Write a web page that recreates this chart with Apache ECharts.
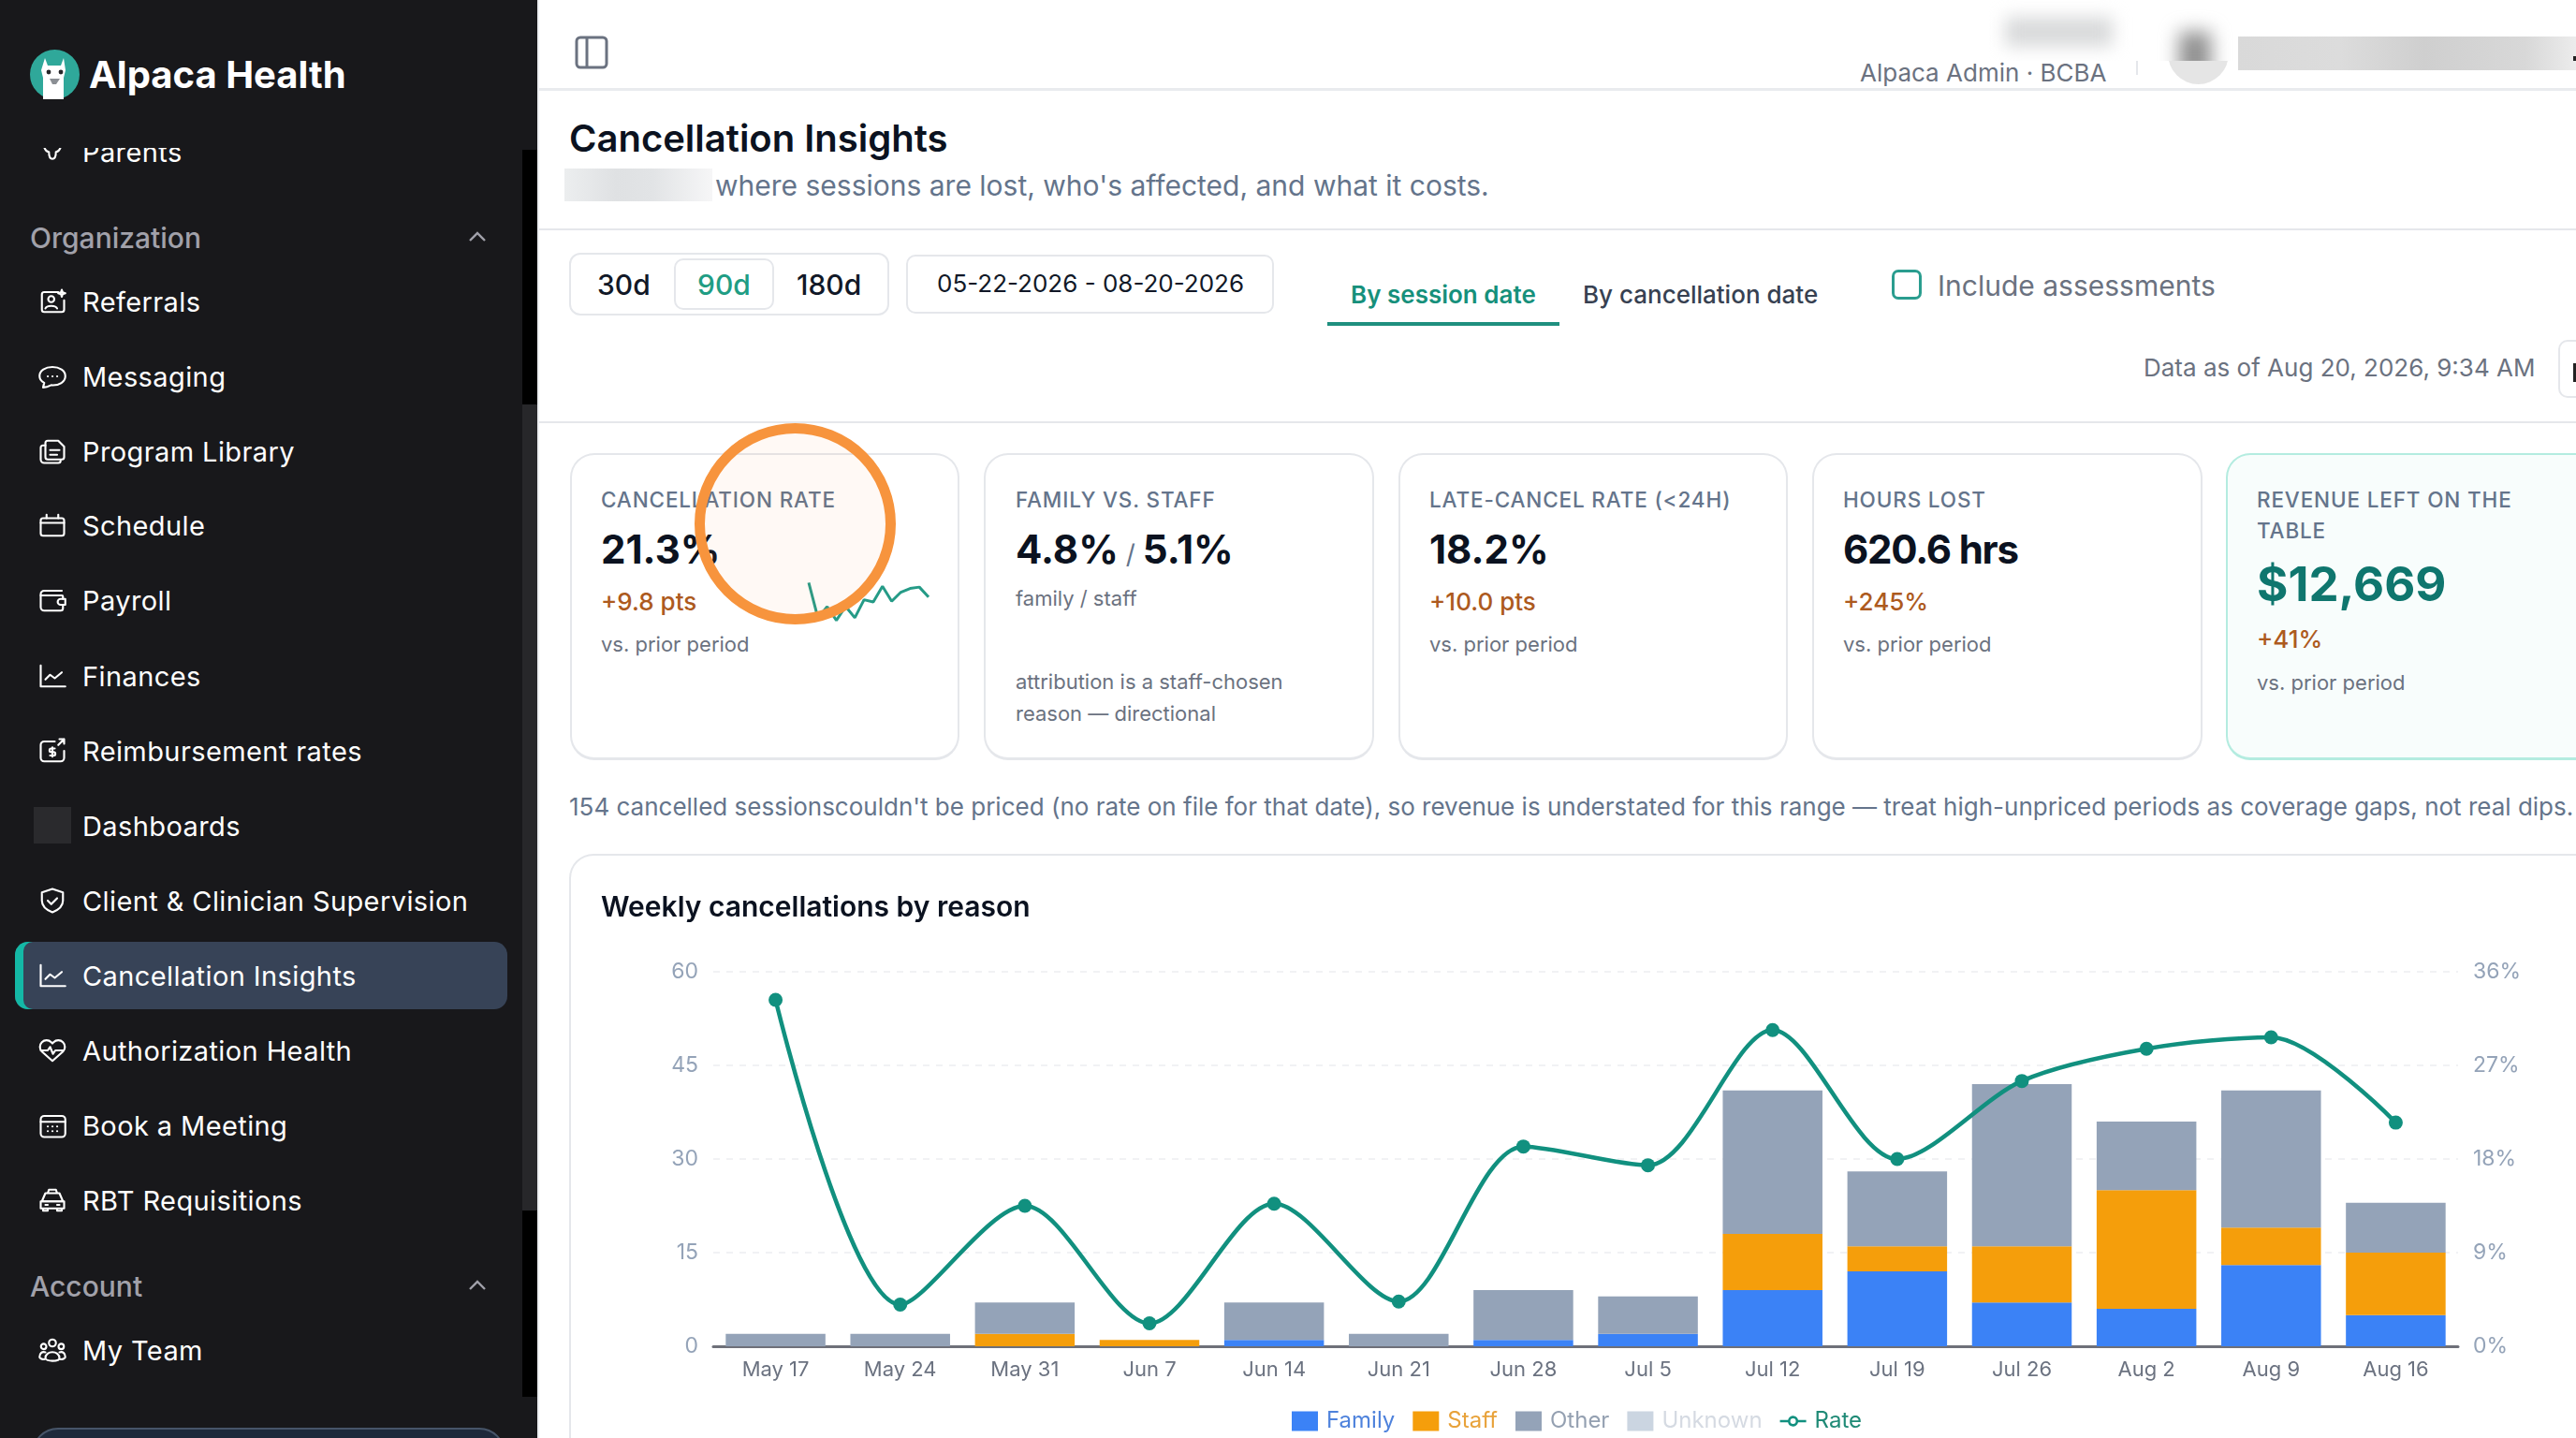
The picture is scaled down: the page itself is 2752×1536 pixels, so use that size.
<!DOCTYPE html>
<html>
<head>
<meta charset="UTF-8"/>
<title>Cancellation Insights</title>
<script src="https://cdn.jsdelivr.net/npm/echarts@6/dist/echarts.min.js"></script>
<style type="text/css">
html, body { margin: 0; padding: 0; width: 2752px; height: 1536px; overflow: hidden; background: #fff; font-family: Inter, "Noto Sans", sans-serif; }
.t { position: absolute; white-space: nowrap; line-height: 1; transform: translateY(-50%); }
.box { position: absolute; box-sizing: border-box; }
.nav { color: #fff; font-size: 29px; left: 88px; letter-spacing: .4px; }
.sec { color: #a1a1aa; font-size: 30px; left: 32px; font-weight: 500; }
.ico { position: absolute; left: 41px; width: 30px; height: 30px; fill: none; stroke: #fff; stroke-width: 1.7; stroke-linecap: round; stroke-linejoin: round; }
.card { position: absolute; box-sizing: border-box; top: 484px; height: 328px; border: 2px solid #e5e7eb; border-bottom-width: 3px; border-radius: 26px; background: #fff; }
.lab { color: #64748b; font-size: 22.5px; font-weight: 500; letter-spacing: .85px; }
.val { color: #0b1220; font-size: 42px; font-weight: 700; }
.delta { color: #ad5a1e; font-size: 26px; font-weight: 500; }
.sub { color: #6b7280; font-size: 22px; }
</style>
</head>
<body>

<!-- sidebar -->
<div class="box" style="left:0;top:0;width:574px;height:1536px;background:#18181b;"></div>
<div class="box" style="left:574px;top:0;width:2px;height:1536px;background:#eceef1;"></div>
<div class="box" style="left:558px;top:160px;width:16px;height:272px;background:#000;"></div>
<div class="box" style="left:558px;top:432px;width:16px;height:861px;background:#27272a;"></div>
<div class="box" style="left:558px;top:1293px;width:16px;height:199px;background:#000;"></div>

<svg class="box" style="left:32px;top:53px;" width="53" height="53" viewBox="0 0 53 53">
  <circle cx="26.5" cy="26.5" r="26.5" fill="#2fa89a"/>
  <path d="M16 9l3 8h14l3-8 2 13-2 8v23H14V30l-2-8z" fill="#fff"/>
  <circle cx="20" cy="24" r="2.4" fill="#27272a"/><circle cx="33" cy="24" r="2.4" fill="#27272a"/>
  <path d="M21 31h11l-4 6h-4z" fill="#8b8f94"/>
</svg>
<div class="t" style="left:95px;top:80px;color:#fff;font-size:40px;font-weight:700;">Alpaca Health</div>

<div class="box" style="left:0;top:158px;width:550px;height:30px;overflow:hidden;">
  <div class="t nav" style="top:4px;">Parents</div>
  <svg class="ico" style="top:-12px;" viewBox="0 0 24 24"><path d="M5 9c1 3 3 4 4 4 0 3 1 6 3 6s3-3 3-6c1 0 3-1 4-4"/></svg>
</div>

<div class="t sec" style="top:254px;">Organization</div>
<svg class="box" style="left:500px;top:246px;" width="20" height="14" viewBox="0 0 20 14"><path d="M2 11l8-8 8 8" fill="none" stroke="#a1a1aa" stroke-width="2.4"/></svg>

<div class="t nav" style="top:322px;">Referrals</div>
<svg class="ico" style="top:307px;" viewBox="0 0 24 24"><path d="M17 4H5a2 2 0 0 0-2 2v13a2 2 0 0 0 2 2h15a2 2 0 0 0 2-2v-8"/><circle cx="11" cy="10" r="2.6"/><path d="M6 18c1-3 9-3 10 0"/><path d="M20 2l.7 2.3L23 5l-2.3.7L20 8l-.7-2.3L17 5l2.3-.7z"/></svg>
<div class="t nav" style="top:402px;">Messaging</div>
<svg class="ico" style="top:387px;" viewBox="0 0 24 24"><path d="M23 11.5C23 7 18 4 12 4S1 7 1 11.5c0 3 2 5 4 6l-1 4c3 0 5-1 7-2 7 .5 12-3 12-7.5z"/><path d="M8 12h.1M12 12h.1M16 12h.1"/></svg>
<div class="t nav" style="top:482px;">Program Library</div>
<svg class="ico" style="top:467px;" viewBox="0 0 24 24"><path d="M8 3h9l5 5v9a2 2 0 0 1-2 2H8a2 2 0 0 1-2-2V5a2 2 0 0 1 2-2z"/><path d="M6 7H4a2 2 0 0 0-2 2v10a3 3 0 0 0 3 3h12a2 2 0 0 0 2-2"/><path d="M10 11h8M10 15h6"/></svg>
<div class="t nav" style="top:561px;">Schedule</div>
<svg class="ico" style="top:546px;" viewBox="0 0 24 24"><rect x="2" y="6" width="20" height="15" rx="2"/><path d="M7 3v3M17 3v3M2 10h20"/></svg>
<div class="t nav" style="top:641px;">Payroll</div>
<svg class="ico" style="top:626px;" viewBox="0 0 24 24"><path d="M20 4H5a3 3 0 0 0-3 3v11a3 3 0 0 0 3 3h14a2 2 0 0 0 2-2v-3"/><path d="M2 8h18a1 1 0 0 1 1 1v2"/><path d="M23 11h-4a2.5 2.5 0 0 0 0 5h4z"/></svg>
<div class="t nav" style="top:722px;">Finances</div>
<svg class="ico" style="top:707px;" viewBox="0 0 24 24"><path d="M2 3v18h21"/><path d="M6 15l4-4 4 3 6-5"/></svg>
<div class="t nav" style="top:802px;">Reimbursement rates</div>
<svg class="ico" style="top:787px;" viewBox="0 0 24 24"><path d="M14 4H5a3 3 0 0 0-3 3v11a3 3 0 0 0 3 3h14a3 3 0 0 0 3-3v-6"/><path d="M17 7l5-5M18 2h4v4"/><path d="M14 10h-3a1.5 1.5 0 0 0 0 3h2a1.5 1.5 0 0 1 0 3h-3M12 9v8"/></svg>
<div class="box" style="left:36px;top:862px;width:40px;height:39px;background:#2a2a2d;"></div>
<div class="t nav" style="top:882px;">Dashboards</div>
<div class="t nav" style="top:962px;">Client &amp; Clinician Supervision</div>
<svg class="ico" style="top:947px;" viewBox="0 0 24 24"><path d="M12 2l9 3v7c0 5-4 8-9 10-5-2-9-5-9-10V5z"/><path d="M8 12l3 3 5-5"/></svg>

<div class="box" style="left:16px;top:1006px;width:526px;height:72px;background:#374357;border-radius:14px;"></div>
<div class="box" style="left:16px;top:1006px;width:22px;height:72px;background:#14b8a6;border-radius:14px 0 0 14px;"></div>
<div class="box" style="left:25px;top:1006px;width:14px;height:72px;background:#374357;border-radius:10px 0 0 10px;"></div>
<div class="t nav" style="top:1042px;">Cancellation Insights</div>
<svg class="ico" style="top:1027px;" viewBox="0 0 24 24"><path d="M2 3v18h21"/><path d="M6 15l4-4 4 3 6-5"/></svg>

<div class="t nav" style="top:1122px;">Authorization Health</div>
<svg class="ico" style="top:1107px;" viewBox="0 0 24 24"><path d="M12 21L3 13a5.5 5.5 0 0 1 8-8l1 1 1-1a5.5 5.5 0 0 1 8 8z"/><path d="M2 12h6l2-3 2.500 6 2-3h7"/></svg>
<div class="t nav" style="top:1202px;">Book a Meeting</div>
<svg class="ico" style="top:1187px;" viewBox="0 0 24 24"><rect x="2" y="4" width="21" height="18" rx="3"/><path d="M2 9h21M8 13h.1M12 13h.1M16 13h.1M8 17h.1M12 17h.1M16 17h.1"/></svg>
<div class="t nav" style="top:1282px;">RBT Requisitions</div>
<svg class="ico" style="top:1267px;" viewBox="0 0 24 24"><path d="M9 3h6l1 3H8zM6 6h12l3 7H3z"/><path d="M2 13h20v6H2zM4 19v2h4v-2M16 19v2h4v-2M6 16h2M16 16h2"/></svg>

<div class="t sec" style="top:1374px;">Account</div>
<svg class="box" style="left:500px;top:1366px;" width="20" height="14" viewBox="0 0 20 14"><path d="M2 11l8-8 8 8" fill="none" stroke="#a1a1aa" stroke-width="2.4"/></svg>
<div class="t nav" style="top:1442px;">My Team</div>
<svg class="ico" style="top:1427px;" viewBox="0 0 24 24"><circle cx="12" cy="6" r="3"/><circle cx="4.500" cy="9" r="2.300"/><circle cx="19.500" cy="9" r="2.300"/><path d="M6 19c0-7 12-7 12 0 0 3-12 3-12 0zM6 14c-3-1-5 1-5 4 0 1 2 2 4 2M18 14c3-1 5 1 5 4 0 1-2 2-4 2"/></svg>
<div class="box" style="left:34px;top:1525px;width:506px;height:60px;background:#1e293b;border:2px solid #475569;border-radius:28px;"></div>

<!-- top bar -->
<div class="box" style="left:576px;top:94px;width:2176px;height:3px;background:#e9ebee;"></div>
<svg class="box" style="left:614px;top:38px;" width="36" height="36" viewBox="0 0 36 36"><rect x="2" y="2" width="32" height="32" rx="4" fill="none" stroke="#6b7280" stroke-width="3"/><path d="M13 2v32" stroke="#6b7280" stroke-width="3"/></svg>
<div class="t" style="left:1987px;top:78px;color:#6b7280;font-size:26px;">Alpaca Admin · BCBA</div>
<div class="box" style="left:2282px;top:65px;width:2px;height:15px;background:#e5e7eb;"></div>
<div class="box" style="left:2316px;top:24px;width:65px;height:66px;border-radius:50%;background:#e5e5e5;"></div>
<div class="box" style="left:2124px;top:0;width:291px;height:65px;background:#fff;overflow:hidden;">
  <div class="box" style="left:18px;top:18px;width:115px;height:32px;background:#d9dadb;filter:blur(9px);"></div>
  <div class="box" style="left:204px;top:34px;width:34px;height:50px;background:#8e8e8e;filter:blur(10px);"></div>
</div>
<div class="box" style="left:2391px;top:39px;width:361px;height:36px;background:linear-gradient(90deg,#d9d9d9,#dcdcdc 30%,#cfcfcf 55%,#d8d8d8 85%,#ececec);"></div>
<div class="box" style="left:2749px;top:60px;width:3px;height:5px;background:#222;"></div>

<!-- page heading -->
<div class="t" style="left:608px;top:148px;color:#0b1220;font-size:40px;font-weight:600;">Cancellation Insights</div>
<div class="box" style="left:603px;top:180px;width:158px;height:35px;background:linear-gradient(90deg,#eceeef,#dfe1e3 35%,#e2e4e6 60%,#f6f6f7);"></div>
<div class="t" style="left:764px;top:198px;color:#64748b;font-size:30px;">where sessions are lost, who's affected, and what it costs.</div>
<div class="box" style="left:576px;top:244px;width:2176px;height:2px;background:#e5e7eb;"></div>

<!-- filters -->
<div class="box" style="left:608px;top:270px;width:342px;height:67px;border:2px solid #e5e7eb;border-radius:12px;"></div>
<div class="box" style="left:720px;top:276px;width:107px;height:55px;border:2px solid #e5e7eb;border-radius:10px;"></div>
<div class="t" style="left:638px;top:304px;color:#111827;font-size:30px;font-weight:500;">30d</div>
<div class="t" style="left:745px;top:304px;color:#1f9d84;font-size:30px;font-weight:500;">90d</div>
<div class="t" style="left:851px;top:304px;color:#111827;font-size:30px;font-weight:500;">180d</div>
<div class="box" style="left:968px;top:272px;width:393px;height:63px;border:2px solid #e5e7eb;border-radius:10px;"></div>
<div class="t" style="left:1001px;top:303px;color:#111827;font-size:26px;">05-22-2026 - 08-20-2026</div>
<div class="t" style="left:1443px;top:315px;color:#16907b;font-size:26px;font-weight:600;">By session date</div>
<div class="box" style="left:1418px;top:344px;width:248px;height:4px;background:#1f8f7f;"></div>
<div class="t" style="left:1691px;top:315px;color:#374151;font-size:26px;font-weight:500;">By cancellation date</div>
<div class="box" style="left:2021px;top:288px;width:32px;height:32px;border:3px solid #2a9d8f;border-radius:7px;"></div>
<div class="t" style="left:2070px;top:305px;color:#6b7280;font-size:30px;">Include assessments</div>
<div class="t" style="left:2290px;top:393px;color:#6b7280;font-size:26px;">Data as of Aug 20, 2026, 9:34 AM</div>
<div class="box" style="left:2733px;top:363px;width:60px;height:62px;border:2px solid #e5e7eb;border-radius:10px;"></div>
<div class="box" style="left:2749px;top:388px;width:3px;height:20px;background:#222;"></div>
<div class="box" style="left:576px;top:450px;width:2176px;height:2px;background:#e5e7eb;"></div>

<!-- stat cards -->
<div class="card" style="left:609px;width:416px;"></div>
<div class="t lab" style="left:642px;top:534px;">CANCELLATION RATE</div>
<div class="t val" style="left:642px;top:587px;">21.3%</div>
<div class="t delta" style="left:642px;top:643px;">+9.8 pts</div>
<div class="t sub" style="left:642px;top:688px;">vs. prior period</div>
<div id="spark" class="box" style="left:862px;top:619px;width:132px;height:48px;"></div>

<div class="card" style="left:1051px;width:417px;"></div>
<div class="t lab" style="left:1085px;top:534px;">FAMILY VS. STAFF</div>
<div class="t val" style="left:1085px;top:587px;word-spacing:-2px;">4.8% <span style="color:#64748b;font-size:28px;font-weight:400;">/</span> 5.1%</div>
<div class="t sub" style="left:1085px;top:639px;">family / staff</div>
<div class="t sub" style="left:1085px;top:728px;">attribution is a staff-chosen</div>
<div class="t sub" style="left:1085px;top:762px;">reason — directional</div>

<div class="card" style="left:1494px;width:416px;"></div>
<div class="t lab" style="left:1527px;top:534px;">LATE-CANCEL RATE (&lt;24H)</div>
<div class="t val" style="left:1527px;top:587px;">18.2%</div>
<div class="t delta" style="left:1527px;top:643px;">+10.0 pts</div>
<div class="t sub" style="left:1527px;top:688px;">vs. prior period</div>

<div class="card" style="left:1936px;width:417px;"></div>
<div class="t lab" style="left:1969px;top:534px;">HOURS LOST</div>
<div class="t val" style="left:1969px;top:587px;letter-spacing:-1.2px;">620.6 hrs</div>
<div class="t delta" style="left:1969px;top:643px;">+245%</div>
<div class="t sub" style="left:1969px;top:688px;">vs. prior period</div>

<div class="card" style="left:2378px;width:420px;border-color:#b4ece0;background:#f8fdfc;"></div>
<div class="t lab" style="left:2411px;top:534px;">REVENUE LEFT ON THE</div>
<div class="t lab" style="left:2411px;top:567px;">TABLE</div>
<div class="t" style="left:2411px;top:623px;color:#0f766e;font-size:51px;font-weight:700;">$12,669</div>
<div class="t delta" style="left:2411px;top:683px;">+41%</div>
<div class="t sub" style="left:2411px;top:729px;">vs. prior period</div>

<div class="t" style="left:608px;top:862px;color:#64748b;font-size:26px;">154 cancelled sessionscouldn't be priced (no rate on file for that date), so revenue is understated for this range — treat high-unpriced periods as coverage gaps, not real dips.</div>

<!-- chart card -->
<div class="card" style="left:608px;top:912px;width:2200px;height:700px;"></div>
<div id="chart" class="box" style="left:610px;top:915px;width:2142px;height:621px;"></div>

<!-- highlight ring, sits over the first card -->
<div class="box" style="left:742px;top:452px;width:215px;height:215px;border-radius:50%;border:11.500px solid #f7943d;background:rgba(253,140,50,.05);"></div>

<script type="text/javascript">
var categories = ['May 17','May 24','May 31','Jun 7','Jun 14','Jun 21','Jun 28','Jul 5','Jul 12','Jul 19','Jul 26','Aug 2','Aug 9','Aug 16'];
var family  = [0, 0, 0, 0, 1, 0, 1, 2, 9, 12, 7, 6, 13, 5];
var staff   = [0, 0, 2, 1, 0, 0, 0, 0, 9, 4, 9, 19, 6, 10];
var other   = [2, 2, 5, 0, 6, 2, 8, 6, 23, 12, 26, 11, 22, 8];
var unknown = [0, 0, 0, 0, 0, 0, 0, 0, 0, 0, 0, 0, 0, 0];
var rate    = [33.3, 4.0, 13.5, 2.2, 13.7, 4.3, 19.2, 17.4, 30.4, 18.0, 25.5, 28.6, 29.7, 21.5];

var TEAL = '#11907f';
// line with an open dot, as the legend key for the rate
var RATE_ICON = 'path://M0 4.5h8.6a5.5 5.5 0 0 1 10.8 0H28v2.5h-8.6a5.5 5.5 0 0 1-10.8 0H0z M11 5.75a3 3 0 0 0 6 0a3 3 0 0 0-6 0z';

function bar(name, values, color) {
    return { name: name, type: 'bar', stack: 'reason', barWidth: '80%', data: values, itemStyle: { color: color } };
}

var chart = echarts.init(document.getElementById('chart'));
chart.setOption({
    animation: false,
    textStyle: { fontFamily: 'Inter' },
    title: {
        text: 'Weekly cancellations by reason',
        left: 27, top: 35,
        textStyle: { color: '#0b1220', fontSize: 30, fontWeight: 600, fontFamily: 'Inter' }
    },
    legend: {
        top: 586, left: 765, itemWidth: 28, itemHeight: 21, itemGap: 19,
        textStyle: { fontSize: 24, fontFamily: 'Inter', padding: [0, 0, 0, 4] },
        data: [
            { name: 'Family', icon: 'rect', textStyle: { color: '#4e82dc' } },
            { name: 'Staff', icon: 'rect', textStyle: { color: '#e8a23a' } },
            { name: 'Other', icon: 'rect', textStyle: { color: '#94a0b1' } },
            { name: 'Unknown', icon: 'rect', textStyle: { color: '#d5dae2' } },
            { name: 'Rate', icon: RATE_ICON, textStyle: { color: '#1f8a76' } }
        ]
    },
    grid: { left: 152, right: 126, top: 123, bottom: 98 },
    xAxis: {
        type: 'category', data: categories,
        axisTick: { show: false },
        axisLine: { lineStyle: { color: '#6e7079', width: 3 } },
        axisLabel: { color: '#6b7280', fontSize: 22, margin: 14 }
    },
    yAxis: [
        { type: 'value', min: 0, max: 60, interval: 15,
          axisLabel: { color: '#94a3b8', fontSize: 23, margin: 16, padding: [5, 0, 0, 0] },
          splitLine: { lineStyle: { color: '#f1f2f4', width: 2, type: [7, 7] } } },
        { type: 'value', min: 0, max: 36, interval: 9, position: 'right',
          axisLabel: { color: '#94a3b8', fontSize: 23, margin: 16, padding: [5, 0, 0, 0], formatter: '{value}%' },
          splitLine: { show: false } }
    ],
    series: [
        bar('Family', family, '#3b82f6'),
        bar('Staff', staff, '#f59e0b'),
        bar('Other', other, '#94a3b8'),
        bar('Unknown', unknown, '#cbd5e1'),
        { name: 'Rate', type: 'line', yAxisIndex: 1, data: rate, smooth: 0.3, symbol: 'circle', symbolSize: 15,
          lineStyle: { color: TEAL, width: 4.5 }, itemStyle: { color: TEAL } }
    ]
});

// the small trend line in the first card uses the same weekly rate
var spark = echarts.init(document.getElementById('spark'));
spark.setOption({
    animation: false,
    grid: { left: 2, right: 2, top: 0, bottom: 1.6 },
    xAxis: { type: 'category', show: false, boundaryGap: false, data: categories },
    yAxis: { type: 'value', show: false, min: 0, max: 36 },
    series: [{ type: 'line', data: rate, symbol: 'none', lineStyle: { color: '#259b87', width: 3 } }]
});
</script>
</body>
</html>
